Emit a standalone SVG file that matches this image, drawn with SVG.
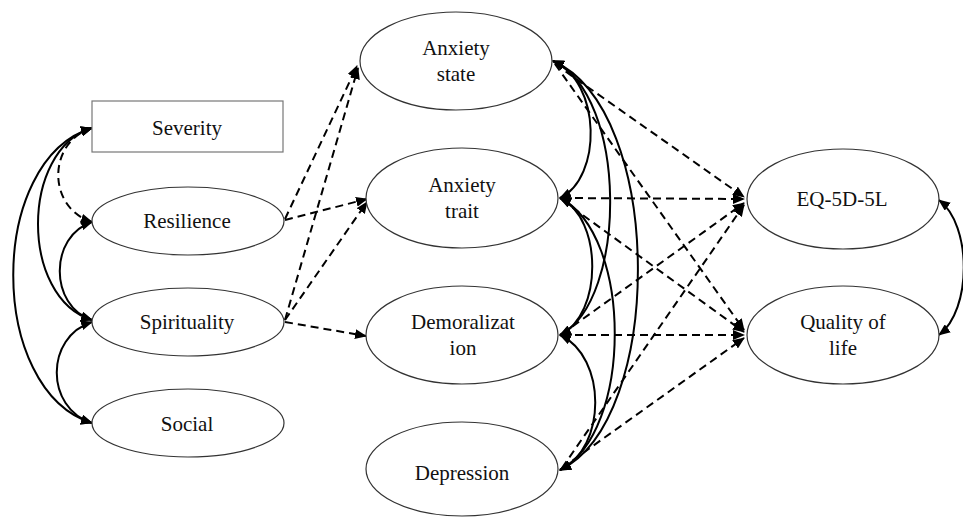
<svg xmlns="http://www.w3.org/2000/svg" width="963" height="519" viewBox="0 0 963 519">
<style>
.n{fill:#fff;stroke:#333;stroke-width:1.2}
.t{font-family:'Liberation Serif','Times New Roman','DejaVu Serif',serif;font-size:21px;fill:#111;text-anchor:middle}
.s{fill:none;stroke:#000;stroke-width:2}
.d{fill:none;stroke:#000;stroke-width:2;stroke-dasharray:8 5}
</style>
<defs>
<marker id="a" viewBox="0 0 12 10" refX="11" refY="5" markerWidth="12" markerHeight="10" markerUnits="userSpaceOnUse" orient="auto-start-reverse">
<path d="M0,0 L12,5 L0,10 Z" fill="#000"/>
</marker>
</defs>
<g id="connectors">
<path class="s" d="M92,128 C-13,160 -13,390 92,423" marker-start="url(#a)" marker-end="url(#a)"/>
<path class="s" d="M92,128 C20,150 20,298 92,320" marker-start="url(#a)" marker-end="url(#a)"/>
<path class="d" d="M92,128 C47,142 47,208 92,222" marker-start="url(#a)" marker-end="url(#a)"/>
<path class="s" d="M92,222 C49,236 49,306 92,320" marker-start="url(#a)" marker-end="url(#a)"/>
<path class="s" d="M92,322 C45,337 45,408 92,423" marker-start="url(#a)" marker-end="url(#a)"/>
<path class="d" d="M285,219 L357,66" marker-end="url(#a)"/>
<path class="d" d="M285,320 L358,68" marker-end="url(#a)"/>
<path class="d" d="M285,220 L367,199" marker-end="url(#a)"/>
<path class="d" d="M285,320 L367,202" marker-end="url(#a)"/>
<path class="d" d="M285,322 L366,336" marker-end="url(#a)"/>
<path class="s" d="M553,61 C602,82 602,178 560,198" marker-start="url(#a)" marker-end="url(#a)"/>
<path class="s" d="M553,61 C628,95 628,300 560,335" marker-start="url(#a)" marker-end="url(#a)"/>
<path class="s" d="M553,61 C665,110 665,420 560,470" marker-start="url(#a)" marker-end="url(#a)"/>
<path class="s" d="M560,198 C603,218 603,315 560,335" marker-start="url(#a)" marker-end="url(#a)"/>
<path class="s" d="M560,198 C633,235 633,432 560,470" marker-start="url(#a)" marker-end="url(#a)"/>
<path class="s" d="M560,335 C607,357 607,448 560,470" marker-start="url(#a)" marker-end="url(#a)"/>
<path class="d" d="M555,64 L744,197" marker-end="url(#a)"/>
<path class="d" d="M555,64 L744,330" marker-end="url(#a)"/>
<path class="d" d="M562,198 L744,199" marker-end="url(#a)"/>
<path class="d" d="M562,200 L744,332" marker-end="url(#a)"/>
<path class="d" d="M562,334 L744,203" marker-end="url(#a)"/>
<path class="d" d="M562,335 L744,335" marker-end="url(#a)"/>
<path class="d" d="M562,468 L744,205" marker-end="url(#a)"/>
<path class="d" d="M562,468 L744,338" marker-end="url(#a)"/>
<path class="s" d="M939,200 C972,225 972,310 939,335" marker-start="url(#a)" marker-end="url(#a)"/>
</g>
<g id="severity"><rect class="n" x="92" y="101" width="191" height="51" style="stroke:#777"/><text class="t" x="187" y="135" font-family="Liberation Serif, serif">Severity</text></g>
<g id="resilience"><ellipse class="n" cx="188" cy="221" rx="96" ry="34"/><text class="t" x="187" y="228" font-family="Liberation Serif, serif">Resilience</text></g>
<g id="spirituality"><ellipse class="n" cx="188" cy="322" rx="96" ry="34"/><text class="t" x="187" y="329" font-family="Liberation Serif, serif">Spirituality</text></g>
<g id="social"><ellipse class="n" cx="188" cy="423" rx="96" ry="34"/><text class="t" x="187" y="431" font-family="Liberation Serif, serif">Social</text></g>
<g id="anxiety-state"><ellipse class="n" cx="456" cy="61" rx="96" ry="49"/><text class="t" x="456" y="55" font-family="Liberation Serif, serif">Anxiety</text><text class="t" x="456" y="81" font-family="Liberation Serif, serif">state</text></g>
<g id="anxiety-trait"><ellipse class="n" cx="462" cy="198" rx="96" ry="50"/><text class="t" x="462" y="192" font-family="Liberation Serif, serif">Anxiety</text><text class="t" x="462" y="218" font-family="Liberation Serif, serif">trait</text></g>
<g id="demoralization"><ellipse class="n" cx="462" cy="335" rx="96" ry="49"/><text class="t" x="463" y="329" font-family="Liberation Serif, serif">Demoralizat</text><text class="t" x="463" y="355" font-family="Liberation Serif, serif">ion</text></g>
<g id="depression"><ellipse class="n" cx="462" cy="469" rx="96" ry="47"/><text class="t" x="462" y="480" font-family="Liberation Serif, serif">Depression</text></g>
<g id="eq5d5l"><ellipse class="n" cx="843" cy="199" rx="96" ry="50"/><text class="t" x="842" y="206" font-family="Liberation Serif, serif">EQ-5D-5L</text></g>
<g id="quality-of-life"><ellipse class="n" cx="843" cy="335" rx="96" ry="49"/><text class="t" x="843" y="329" font-family="Liberation Serif, serif">Quality of</text><text class="t" x="843" y="355" font-family="Liberation Serif, serif">life</text></g>
</svg>
